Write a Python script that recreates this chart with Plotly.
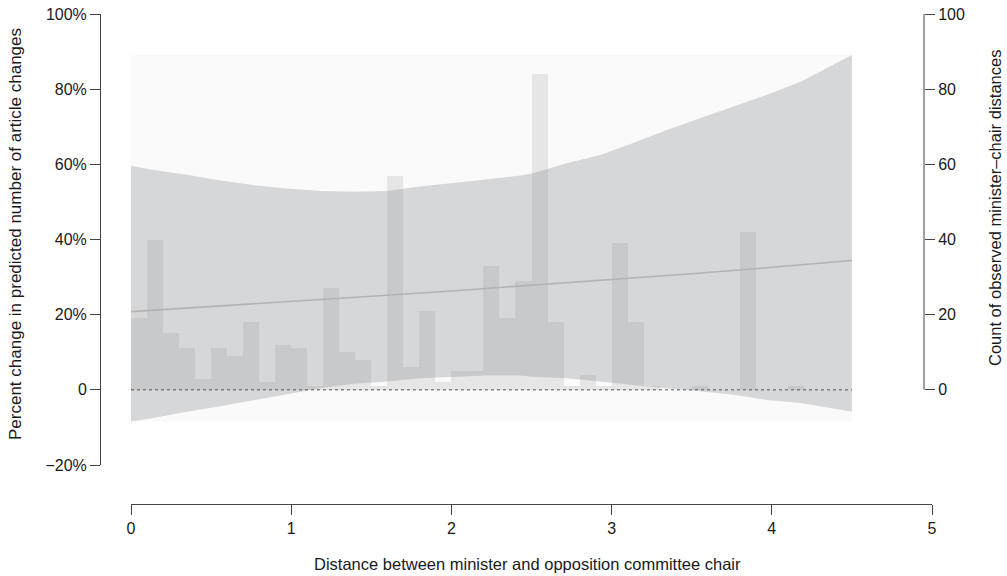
import plotly.graph_objects as go

# ---- data ----
bin_width = 0.1
bin_starts = [round(0.1 * k, 1) for k in range(45)]
counts = [19, 40, 15, 11, 3, 11, 9, 18, 2, 12,
          11, 1, 27, 10, 8, 1, 57, 6, 21, 2,
          5, 5, 33, 19, 29, 84, 18, 1, 4, 1,
          39, 18, 1, 0, 0, 1, 0, 0, 42, 0,
          0, 1, 0, 0, 0]

ci_x = [0.0, 0.14, 0.35, 0.56, 0.76, 0.97, 1.18, 1.39, 1.60, 1.80, 2.01, 2.22,
        2.43, 2.51, 2.72, 2.93, 3.13, 3.34, 3.55, 3.76, 3.97, 4.18, 4.38, 4.5]
ci_upper = [59.6, 58.5, 57.2, 55.7, 54.5, 53.6, 52.9, 52.7, 52.9, 54.1, 55.0, 56.0,
            57.0, 57.6, 60.3, 62.5, 65.6, 69.1, 72.3, 75.4, 78.5, 82.0, 86.4, 89.1]
ci_lower = [-8.4, -7.5, -5.8, -4.4, -2.8, -1.1, 0.4, 1.6, 2.2, 3.1, 3.5, 3.8,
            3.8, 3.5, 3.1, 2.2, 1.3, 0.4, -0.4, -1.3, -2.7, -3.5, -4.9, -5.8]

est_x = [0.0, 0.5, 1.0, 1.5, 2.0, 2.5, 3.0, 3.5, 4.0, 4.5]
est_y = [20.8, 22.1, 23.5, 24.9, 26.3, 27.8, 29.3, 30.9, 32.6, 34.4]

x_ticks = [0, 1, 2, 3, 4, 5]
left_ticks = [-20, 0, 20, 40, 60, 80, 100]
left_ticktext = ["\u221220%", "0", "20%", "40%", "60%", "80%", "100%"]
right_ticks = [0, 20, 40, 60, 80, 100]

# ---- geometry ----
W, H = 1007, 576
L, T = 100, 14
pw, ph = 832, 490
R = W - L - pw
B = H - T - ph


def px_x(page_x):
    return (page_x - L) / pw


def px_y(page_y):
    return (T + ph - page_y) / ph


font = "Liberation Sans, Arial, sans-serif"
txt = "#1a1a1a"
axc = "#444444"
tick_fs = 16
xtitle_fs = 16.5
ytitle_fs = 17
rtitle_fs = 16.5

fig = go.Figure()

# pale bounding rectangle of the band
xmin, xmax = min(ci_x), max(ci_x)
ymin, ymax = min(ci_lower), max(ci_upper)
fig.add_trace(go.Scatter(
    x=[xmin, xmax, xmax, xmin, xmin], y=[ymin, ymin, ymax, ymax, ymin],
    mode="lines", fill="toself", fillcolor="#fafafa", line=dict(width=0),
    hoverinfo="skip", showlegend=False, xaxis="x", yaxis="y"))

# confidence band
fig.add_trace(go.Scatter(
    x=ci_x + ci_x[::-1], y=ci_upper + ci_lower[::-1],
    mode="lines", fill="toself", fillcolor="#d6d7d9", line=dict(width=0),
    hoverinfo="skip", showlegend=False, xaxis="x", yaxis="y"))

# histogram bars (right axis)
fig.add_trace(go.Bar(
    x=[s + bin_width / 2 for s in bin_starts], y=counts, width=bin_width,
    marker=dict(color="rgba(145,145,145,0.19)", line=dict(width=0)),
    showlegend=False, xaxis="x", yaxis="y2"))

# estimate line
fig.add_trace(go.Scatter(
    x=est_x, y=est_y, mode="lines", line=dict(color="#b3b3b3", width=1.6),
    showlegend=False, xaxis="x", yaxis="y3"))

# zero reference line
fig.add_trace(go.Scatter(
    x=[xmin, xmax], y=[0, 0], mode="lines",
    line=dict(color="#555555", width=1, dash="dot"),
    showlegend=False, xaxis="x", yaxis="y3"))

x_dom0 = px_x(131)
y_dom0 = px_y(465)
right_pos = px_x(924)

fig.update_layout(
    width=W, height=H,
    margin=dict(l=L, r=R, t=T, b=B, autoexpand=False),
    plot_bgcolor="white", paper_bgcolor="white",
    bargap=0, barmode="overlay",
    font=dict(family=font, size=tick_fs, color=txt),
    xaxis=dict(domain=[x_dom0, 1], range=[0, 5], anchor="free", position=0,
               tickvals=x_ticks, ticks="outside", ticklen=10, tickcolor=axc,
               showline=True, linecolor=axc, linewidth=1, showgrid=False,
               zeroline=False, tickfont=dict(size=tick_fs, color=txt)),
    yaxis=dict(domain=[y_dom0, 1], range=[-20, 100], anchor="free", position=0,
               tickvals=left_ticks, ticktext=left_ticktext, ticks="outside",
               ticklen=10, tickcolor=axc, showline=True, linecolor=axc,
               linewidth=1, showgrid=False, zeroline=False,
               tickfont=dict(size=tick_fs, color=txt)),
    yaxis2=dict(overlaying="y", side="right", range=[-20, 100], anchor="free",
                position=right_pos, tickvals=right_ticks, ticks="outside",
                ticklen=10, tickcolor=axc, showline=False, showgrid=False,
                zeroline=False, tickfont=dict(size=tick_fs, color=txt)),
    yaxis3=dict(overlaying="y", range=[-20, 100], visible=False),
    shapes=[dict(type="line", xref="paper", yref="y2", x0=right_pos, x1=right_pos,
                 y0=0, y1=100, line=dict(color=axc, width=1))],
    annotations=[
        dict(text="Distance between minister and opposition committee chair",
             xref="paper", yref="paper", x=px_x(527), y=px_y(564),
             showarrow=False, font=dict(size=xtitle_fs, color=txt),
             xanchor="center", yanchor="middle"),
        dict(text="Percent change in predicted number of article changes",
             xref="paper", yref="paper", x=px_x(15), y=px_y(234),
             showarrow=False, textangle=-90, font=dict(size=ytitle_fs, color=txt),
             xanchor="center", yanchor="middle"),
        dict(text="Count of observed minister\u2013chair distances",
             xref="paper", yref="paper", x=px_x(995), y=px_y(208),
             showarrow=False, textangle=-90, font=dict(size=rtitle_fs, color=txt),
             xanchor="center", yanchor="middle"),
    ],
)

fig.write_html("out.html",
               config={"displayModeBar": False},
               post_script="document.body.style.margin='0';"
                           "document.body.style.overflow='hidden';")
